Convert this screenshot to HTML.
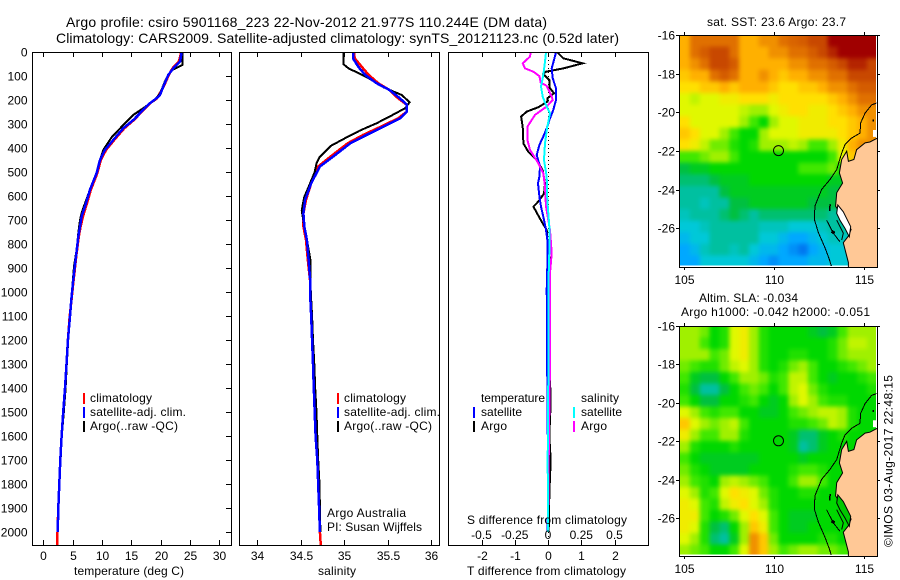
<!DOCTYPE html>
<html>
<head>
<meta charset="utf-8">
<title>Argo profile</title>
<style>
html,body{margin:0;padding:0;background:#fff;}
svg{display:block;}
text{font-family:"Liberation Sans",sans-serif;font-size:12px;fill:#000;}
.t14{font-size:14px;}
</style>
</head>
<body>
<svg id="chart" xmlns="http://www.w3.org/2000/svg" width="900" height="580" viewBox="0 0 900 580">
  <defs>
    <filter id="soft" x="-5%" y="-5%" width="110%" height="110%" color-interpolation-filters="sRGB"><feGaussianBlur stdDeviation="2.2"/></filter>
    <clipPath id="clip-sst"><rect x="680" y="35" width="196" height="230.5"/></clipPath>
    <clipPath id="clip-sla"><rect x="680" y="326" width="196" height="228.5"/></clipPath>
    <clipPath id="geo-sst"><rect x="680" y="35" width="197" height="232"/></clipPath>
    <clipPath id="geo-sla"><rect x="680" y="326" width="197" height="230"/></clipPath>
  </defs>
  <text class="t14" x="66" y="27" textLength="481">Argo profile: csiro 5901168_223 22-Nov-2012 21.977S 110.244E (DM data)</text>
  <text class="t14" x="56" y="43" textLength="563">Climatology: CARS2009. Satellite-adjusted climatology: synTS_20121123.nc (0.52d later)</text>

  <g id="layer-heat"></g>
  <g id="layer-geo"></g>
  <g id="layer-lines"></g>
  <g id="layer-axes"></g>

  <text x="74" y="575" textLength="110">temperature (deg C)</text>
  <text x="318" y="575" textLength="38">salinity</text>
  <text x="467" y="575" textLength="159">T difference from climatology</text>
  <text x="467" y="524" textLength="160">S difference from climatology</text>

  <g>
    <rect x="83" y="393" width="2" height="11" fill="#ff0000"/>
    <text x="90" y="402" textLength="62">climatology</text>
    <rect x="83" y="407" width="2" height="11" fill="#0000ff"/>
    <text x="90" y="416" textLength="96">satellite-adj. clim.</text>
    <rect x="83" y="421" width="2" height="11" fill="#000"/>
    <text x="90" y="430" textLength="88">Argo(..raw -QC)</text>
  </g>
  <g>
    <rect x="337" y="393" width="2" height="11" fill="#ff0000"/>
    <text x="344" y="402" textLength="62">climatology</text>
    <rect x="337" y="407" width="2" height="11" fill="#0000ff"/>
    <text x="344" y="416" textLength="96">satellite-adj. clim.</text>
    <rect x="337" y="421" width="2" height="11" fill="#000"/>
    <text x="344" y="430" textLength="88">Argo(..raw -QC)</text>
    <text x="327" y="517" textLength="79">Argo Australia</text>
    <text x="327" y="531" textLength="95">PI: Susan Wijffels</text>
  </g>
  <g>
    <text x="481" y="402" textLength="64">temperature</text>
    <rect x="473" y="407" width="2" height="11" fill="#0000ff"/>
    <text x="481" y="416" textLength="41">satellite</text>
    <rect x="473" y="421" width="2" height="11" fill="#000"/>
    <text x="481" y="430" textLength="26">Argo</text>
    <text x="581" y="402" textLength="38">salinity</text>
    <rect x="573" y="407" width="2" height="11" fill="#00ffff"/>
    <text x="581" y="416" textLength="41">satellite</text>
    <rect x="573" y="421" width="2" height="11" fill="#ff00ff"/>
    <text x="581" y="430" textLength="26">Argo</text>
  </g>

  <text x="707" y="26" textLength="139">sat. SST: 23.6 Argo: 23.7</text>
  <text x="699" y="302" textLength="99">Altim. SLA: -0.034</text>
  <text x="681" y="316" textLength="189">Argo h1000: -0.042 h2000: -0.051</text>
  <text transform="translate(892.5,547) rotate(-90)" textLength="172">©IMOS 03-Aug-2017 22:48:15</text>
</svg>
<script>
// ---------- depth ticks and axis tick labels ----------
const depthTicks = [0,100,200,300,400,500,600,700,800,900,1000,1100,1200,1300,1400,1500,1600,1700,1800,1900,2000];
const tempTicks = [0,5,10,15,20,25,30];
const salTicks = [34,34.5,35,35.5,36];
const tDiffTicks = [-2,-1,0,1,2];
const sDiffTicks = [-0.5,-0.25,0,0.25,0.5];
const lonTicks = [105,110,115];
const latTicks = [-16,-18,-20,-22,-24,-26];

// ---------- temperature panel ----------
const tempDepth = [0,39,67,94,143,178,194,212,240,282,317,365,407,449,504,574,629,685,726,768,851,921,976,1032,1100,1200,1300,1400,1500,1600,1700,1800,1900,2000];
const tempSat = [23.58,23.3,22.16,21.3,20.45,19.89,19.2,18.18,17.05,15.34,13.64,11.93,10.51,9.66,9.09,7.95,7.27,6.53,6.25,5.97,5.57,5.23,5.0,4.77,4.55,4.2,3.95,3.7,3.4,3.12,2.9,2.73,2.56,2.45];
const climDepth = [0,39,67,94,143,178,194,212,240,282,317,365,407,449,504,574,629,685,726,768,851,921,976,1032,1100,1200,1300,1400,1500,1600,1700,1800,1900,2000,2055];
const tempClim = [23.5,23.1,22.0,21.4,20.5,19.7,19.3,18.2,17.1,15.45,13.8,12.1,10.7,9.8,9.2,8.1,7.45,6.75,6.35,6.05,5.6,5.3,5.05,4.8,4.5,4.2,3.95,3.7,3.4,3.12,2.9,2.73,2.56,2.42,2.39];
const tempArgoDepth = [0,53,74,115,171,199,233,261,303,354,407,449,504,574,629,671,699,754,824,893,963,1018,1100,1200,1300,1400,1500,1600,1700,1800,1900,2000];
const tempArgo = [23.7,23.7,21.9,20.85,19.9,19.0,17.05,15.34,13.64,11.65,10.23,9.66,9.09,7.95,7.1,6.53,6.25,5.97,5.68,5.23,5.0,4.83,4.55,4.25,4.0,3.8,3.5,3.15,2.95,2.75,2.6,2.45];

// ---------- salinity panel ----------
const salDepth = [0,25,60,94,129,157,192,219,247,275,310,344,379,435,476,546,615,671,726,782,865,963,1032,1100,1200,1300,1400,1500,1600,1700,1800,1900,2000];
const salSat = [35.10,35.10,35.16,35.24,35.37,35.52,35.64,35.72,35.72,35.64,35.45,35.26,35.07,34.87,34.72,34.62,34.55,34.53,34.54,34.57,34.59,34.61,34.61,34.62,34.63,34.64,34.65,34.66,34.67,34.69,34.70,34.71,34.72];
const salClimDepth = [0,25,60,94,129,157,192,219,247,275,310,344,379,435,476,546,615,671,726,782,865,963,1032,1100,1200,1300,1400,1500,1600,1700,1800,1900,2000,2055];
const salClim = [35.11,35.12,35.20,35.28,35.39,35.52,35.62,35.72,35.72,35.62,35.42,35.22,35.04,34.84,34.70,34.62,34.56,34.53,34.53,34.56,34.58,34.61,34.61,34.62,34.63,34.64,34.65,34.66,34.67,34.69,34.70,34.71,34.72,34.73];
const salArgoDepth = [0,49,67,104,146,178,208,233,268,296,326,354,389,435,463,499,561,603,658,726,782,865,963,1032,1100,1200,1300,1400,1500,1600,1700,1800,1900,2000];
const salArgo = [34.99,34.99,35.05,35.26,35.45,35.66,35.75,35.70,35.52,35.37,35.18,35.03,34.85,34.72,34.68,34.66,34.59,34.54,34.51,34.54,34.57,34.61,34.61,34.62,34.63,34.64,34.655,34.665,34.68,34.69,34.70,34.715,34.72,34.725];

// ---------- difference panel ----------
const dtArgoDepth = [0,25,46,67,81,90,115,146,171,192,206,229,247,268,310,380,415,449,492,547,589,622,643,706,740,782,838,893,976,1100,1200,1300,1400,1500,1600,1700,1800,1900,2000];
const dtArgo = [0.28,0.46,1.04,0.46,-0.06,-0.14,0.04,0.04,0.18,-0.02,-0.02,-0.29,-0.64,-0.81,-0.76,-0.74,-0.59,-0.34,-0.16,-0.09,-0.12,-0.29,-0.44,-0.19,-0.04,-0.02,0.11,0.06,0.04,0.04,0,0.03,0.07,0.07,0.04,0.08,0.05,0.03,0.02];
const dtSatDepth = [0,32,67,108,150,199,240,275,317,351,386,428,476,518,546,601,643,685,740,782,893,990,1100,1400,1700,2000];
const dtSat = [0.24,0.18,0.11,0.14,0.24,0.24,0.16,0.06,-0.04,-0.14,-0.26,-0.34,-0.24,-0.26,-0.30,-0.26,-0.21,-0.14,-0.06,-0.02,-0.02,-0.04,-0.03,-0.02,0,-0.01];
const dsSatDepth = [0,39,94,143,185,226,254,310,379,449,518,615,726,837,976,1200,1500,1700,2000];
const dsSat = [-0.015,-0.0225,-0.035,-0.0525,-0.04,-0.01,0.015,-0.005,-0.0225,-0.03,-0.01,-0.005,0.01,0.01,0.0025,0.005,0,-0.0025,0];
const dsArgoDepth = [0,18,46,67,81,99,126,140,185,199,226,261,310,365,407,463,504,560,643,740,837,921,1004,1300,1500,1700,2000];
const dsArgo = [-0.13,-0.135,-0.19,-0.1725,-0.11,-0.065,-0.055,-0.01,0.0275,0.035,-0.01,-0.0975,-0.155,-0.155,-0.135,-0.0725,-0.035,-0.0225,-0.015,0.015,0.0275,0.015,0.015,0.015,0.01,0.005,0];

// ---------- map grids (colour level, 20 rows north to south, 20 columns west to east) ----------
const sstGrid = [
[10,11,11,11,11,11,10,10,10.5,10.5,11,11.3,11.5,12,12,13,13,13,13,13],
[10,11,11.5,12,12,11,10,10,10,10.5,10.5,11,11,11.5,12,12.5,13,13,13,13],
[10,10.5,11,12,12,11.5,10,10,10,10,10,10.5,10.5,11,11,11.5,12,12.5,12.5,12],
[9.5,10,10,11,11.5,11,10,10,10.5,10,9.5,10,10,10.5,10.5,11,11,12,12,12],
[9,9,9.5,9.5,10,9.5,10,10,10,9.5,9,9,9.5,9.5,10,10.5,10.5,11,11.5,11.5],
[8,7.5,8,8,8.5,8.5,9,9,9,8.5,9,9,9,9,9,9.5,10,10.5,11,11],
[8,8,8,8,8,8,7.5,7,7,8,8.5,9,9,8.5,8.5,9,9.5,10,10.5,10.5],
[9,8,8,8,8,8,7,6,5,7,8,8,8.5,8.5,8.5,9,9,9.5,10,10.5],
[9.5,9,8,8,7,6,5,5,7,8,8,8,8.5,8.5,8.5,8.5,9,9.5,10,10.5],
[9,8.5,7.5,6.5,6.5,5.5,5,5.5,7,7,7,7.5,7,6,6,7,8.5,10,10.5,10.5],
[6,6,6.5,7,7,6,5,5,5,5,5,5,5,5,5,6,8,9.5,10,10],
[4,4.5,4.5,5,5,5,5,5,5,5,5,5,6,6,6,6.5,5,5,5,5],
[3.5,3.5,3.5,4,4.5,4.5,4.5,5,5,5,5,5,5,5,5,4.5,4.5,4.5,4.5,4.5],
[3,3,3,3,4,4.5,4.5,4.5,4.5,4.5,4.5,4.5,4.5,4.5,4.5,4,4,4,4,4],
[3,3,2.5,3,3,4,4,4.5,4.5,4.5,4.5,4.5,4.5,4,4,4,3.5,3.5,3.5,3.5],
[2.5,3,3,3,3.5,4,3.5,3,3.5,3.5,3.5,3.5,3.5,3.5,3.5,3,3,3,3,3],
[2,2,2.5,3,3,3,3,3,2.5,2.5,2.5,2,2,2,2.5,3,3,3,3,3],
[1.5,2,2,3,3,3,3,3,2,2,1.5,1,1,1.5,2,2.5,2.5,2.5,2.5,2.5],
[1,1.5,2.5,3,3,2.5,3,2,1.5,1.5,1,0.5,0,1,1.5,2,2,2,2,2],
[1,1,2,2,2,2,2,1.5,1,0.5,1,1,1,1.5,1.5,2,2,2,2,2]
];
const slaGrid = [
[7,7,6.5,5,5.5,8,8.5,7,5.5,5,5,5,5,4.5,4,4.5,6,7,7,7],
[7,7,6,5,5.5,8,8.5,7,5.5,5,5,5,5,5,5,5.5,6.5,7.5,7.5,7],
[7,7,7,6,6.5,8,8.5,7,5.5,5,5,5.5,5.5,5,5,5.5,6.5,7,7,7],
[6.5,6,5.5,5.5,6.5,7.5,8,7,5.5,5,5.5,6.5,7,6,5,5,5.5,6,6.5,7],
[6,4.5,4,4,5,6,7,7,6.5,5.5,6,7.5,7.5,6,5,4.5,5,5,5.5,6],
[5.5,4,3,3,4,5,6,6.5,6,5,6,7.5,8,6.5,5.5,5,5,5,5,5.5],
[6,5,4,4,5,5,5.5,6,5,4.5,5,7,8,7,6,5.5,5.5,5,5,5],
[8,7,6,5.5,6,6,5,5,4.5,4.5,5,6,6.5,7,7.5,7.5,7,5.5,5,5],
[9.5,8,7,6.5,7,7.5,6,5,5,5,5,5.5,5.5,6,6.5,7.5,7,5.5,5,5],
[8.5,7,6,6,7,7,5.5,5,5,5,5,4.5,3.5,3.5,4.5,5,5.5,5,5,5],
[7,5.5,5,5,5,5.5,5,5,5,5,5,4.5,3,3.5,4.5,5,5,5,5,5],
[6,5,4.5,4.5,4.5,4.5,4.5,4.5,5,5,5,5,4.5,5,5,5,5,5,5,5],
[6.5,5.5,5,4.5,4.5,4.5,4.5,5,5,5,5,5.5,6,6,5.5,5,5,5,5,5],
[7,6,5.5,5,7,7.5,7,6.5,6,5,5,6,7,7,6,5,5,5,5,5],
[8,7,5.5,6,8,9,8.5,8,6.5,5.5,5,5,5.5,5.5,5,5,5,5,5,5],
[8.5,8,6,5.5,7.5,8.5,9,8,7,5.5,5,5,5,5,5,5,5,5,5,5],
[8.5,8.5,6,5,5.5,6.5,8,9,8,6,5,4.5,4.5,4.5,5,5,5,5,5,5],
[8.5,8,5.5,4,3.5,5,7,9.5,8.5,6,5,4.5,4.5,5,5,5,5,5,5,5],
[8,7,5.5,3.5,3,4.5,7,10.5,9.5,6.5,5,5,5,5,5.5,5.5,5,5,5,5],
[7,6.5,6,5,5,6,8,10.5,9.5,7,6,6.5,7,7,6.5,6.5,6,6,5,5]
];
const levelColours = ['#0078f0','#00a8ff','#00c8d8','#00c0a0','#00c040','#00d800','#40e800','#a0f000','#e0f800','#ffe000','#ffb000','#e07000','#c84800','#a00000'];

// ---------- geography (lon / lat) ----------
const landLon = [115.85,115.74,115.33,115.06,114.59,114.44,114.13,114.04,113.76,113.63,113.81,113.48,113.42,114.04,114.28,114.13,113.85,114.13,114.13,115.85];
const landLat = [-21.33,-21.33,-21.53,-21.58,-21.93,-22.44,-22.53,-22.01,-22.44,-23.13,-23.65,-24.16,-24.85,-25.71,-26.05,-26.40,-26.74,-27.77,-28.1,-28.1];
const isobathLon = [115.70,115.43,115.06,114.81,114.78,114.31,113.94,113.76,113.48,113.11,112.64,112.27,112.24,112.46,112.83,113.07,113.18];
const isobathLat = [-19.52,-19.61,-20.04,-20.55,-21.07,-21.33,-21.67,-22.10,-22.96,-23.47,-23.99,-24.85,-25.54,-26.22,-27.00,-27.60,-27.94];
const bayLon = [113.54,113.85,114.26,114.18,113.94,113.66,113.48];
const bayLat = [-24.79,-25.14,-25.91,-26.43,-26.0,-25.57,-25.22];
const islandLon = [112.92,113.29,113.66];
const islandLat = [-25.57,-26.25,-26.69];
const peninsulaLon = [113.48,113.85,113.76];
const peninsulaLat = [-25.57,-26.25,-26.6];
const bernierLon = [113.12,113.08];
const bernierLat = [-24.75,-25.1];
const blobLon = [113.2,113.36];
const blobLat = [-26.15,-26.25];
const patchLon = [115.5,115.74,115.74,115.5];
const patchLat = [-20.91,-20.91,-21.27,-21.27];
const reefLon = [115.46,115.56];
const reefLat = [-20.42,-20.42];
const floatLon = 110.244;
const floatLat = -21.977;

// ---------- drawing ----------
const NS = 'http://www.w3.org/2000/svg';
const layerHeat = document.getElementById('layer-heat');
const layerGeo = document.getElementById('layer-geo');
const layerLines = document.getElementById('layer-lines');
const layerAxes = document.getElementById('layer-axes');

function make(tag, parent, name) {
  const el = document.createElementNS(NS, tag);
  
  
  parent.appendChild(el);
  return el;
}
function yDepth(d) { return 52.3 + d * 0.2399; }
function xTemp(v) { return 43.3 + v * 5.867; }
function xSal(v) { return 257.3 + (v - 34) * 87; }
function xDT(v) { return 548 + v * 33.25; }
function xDS(v) { return 548 + v * 133; }

function profile(xFn, depths, values, colour, width, name) {
  const p = make('polyline', layerLines, name);
  p.setAttribute('points', values.map((v, i) => xFn(v).toFixed(1) + ',' + yDepth(depths[i]).toFixed(1)).join(' '));
  p.setAttribute('fill', 'none');
  p.setAttribute('stroke', colour);
  p.setAttribute('stroke-width', width);
  p.setAttribute('shape-rendering', 'crispEdges');
}
function line(parent, x1, y1, x2, y2, name) {
  const l = make('line', parent, name);
  l.setAttribute('x1', x1); l.setAttribute('y1', y1);
  l.setAttribute('x2', x2); l.setAttribute('y2', y2);
  l.setAttribute('stroke', '#000');
  l.setAttribute('stroke-width', 1);
  l.setAttribute('shape-rendering', 'crispEdges');
}
function frame(x, y, w, h, name) {
  const r = make('rect', layerAxes, name);
  r.setAttribute('x', x + 0.5); r.setAttribute('y', y + 0.5);
  r.setAttribute('width', w); r.setAttribute('height', h);
  r.setAttribute('fill', 'none');
  r.setAttribute('stroke', '#000');
  r.setAttribute('stroke-width', 1);
  r.setAttribute('shape-rendering', 'crispEdges');
}
function label(x, y, str, anchor, name) {
  const t = make('text', layerAxes, name);
  t.setAttribute('x', x); t.setAttribute('y', y);
  t.setAttribute('text-anchor', anchor);
  t.textContent = str;
}

// panels
frame(32, 52, 199, 493, 'temperature-panel-frame');
frame(239, 52, 200, 493, 'salinity-panel-frame');
frame(448, 52, 200, 493, 'difference-panel-frame');

depthTicks.forEach(d => {
  const y = Math.round(yDepth(d)) + 0.5;
  line(layerAxes, 226, y, 231, y, 'depth-tick');
  label(27.5, y + 4, String(d), 'end', 'depth-tick-label');
});
tempTicks.forEach(v => {
  const x = Math.round(xTemp(v)) + 0.5;
  line(layerAxes, x, 52, x, 57, 'temperature-top-tick');
  line(layerAxes, x, 540, x, 545, 'temperature-bottom-tick');
  label(x, 560, String(v), 'middle', 'temperature-tick-label');
});
salTicks.forEach(v => {
  const x = Math.round(xSal(v)) + 0.5;
  line(layerAxes, x, 52, x, 57, 'salinity-top-tick');
  line(layerAxes, x, 540, x, 545, 'salinity-bottom-tick');
  label(x, 560, String(v), 'middle', 'salinity-tick-label');
});
tDiffTicks.forEach(v => {
  const x = Math.round(xDT(v)) + 0.5;
  line(layerAxes, x, 52, x, 57, 't-diff-top-tick');
  line(layerAxes, x, 540, x, 545, 't-diff-bottom-tick');
  label(x, 560, String(v), 'middle', 't-diff-tick-label');
});
sDiffTicks.forEach(v => {
  label(xDS(v), 539, String(v), 'middle', 's-diff-tick-label');
});
const zeroLine = make('line', layerLines, 'zero-difference-line');
zeroLine.setAttribute('x1', 548.5); zeroLine.setAttribute('x2', 548.5);
zeroLine.setAttribute('y1', 52); zeroLine.setAttribute('y2', 545);
zeroLine.setAttribute('stroke', '#000');
zeroLine.setAttribute('stroke-dasharray', '1 3');

// series
profile(xTemp, climDepth, tempClim, '#ff0000', 2.5, 'temperature-climatology-line');
profile(xTemp, tempArgoDepth, tempArgo, '#000000', 2, 'temperature-argo-line');
profile(xTemp, tempDepth, tempSat, '#0000ff', 2.5, 'temperature-satellite-line');
profile(xSal, salClimDepth, salClim, '#ff0000', 2.5, 'salinity-climatology-line');
profile(xSal, salArgoDepth, salArgo, '#000000', 2, 'salinity-argo-line');
profile(xSal, salDepth, salSat, '#0000ff', 2.5, 'salinity-satellite-line');
profile(xDT, dtArgoDepth, dtArgo, '#000000', 2, 't-diff-argo-line');
profile(xDT, dtSatDepth, dtSat, '#0000ff', 2, 't-diff-satellite-line');
profile(xDS, dsArgoDepth, dsArgo, '#ff00ff', 2, 's-diff-argo-line');
profile(xDS, dsSatDepth, dsSat, '#00ffff', 2, 's-diff-satellite-line');

// maps
function levelColour(v) {
  const lo = Math.max(0, Math.min(levelColours.length - 1, Math.floor(v)));
  const hi = Math.min(levelColours.length - 1, lo + 1);
  const f = v - lo;
  const a = parseInt(levelColours[lo].slice(1), 16);
  const b = parseInt(levelColours[hi].slice(1), 16);
  const ch = s => Math.round(((a >> s) & 255) * (1 - f) + ((b >> s) & 255) * f);
  return 'rgb(' + ch(16) + ',' + ch(8) + ',' + ch(0) + ')';
}
function polyPoints(xFn, yFn, lons, lats) {
  return lons.map((v, i) => xFn(v).toFixed(1) + ',' + yFn(lats[i]).toFixed(1)).join(' ');
}
function drawMap(cfg) {
  const xLon = v => 684.3 + (v - 105) * 17.97;
  const yLat = v => cfg.top + (-16 - v) * cfg.pxPerDeg;
  const left = 680, right = 877, bottom = cfg.top + cfg.height;
  const clipG = make('g', layerHeat, cfg.name + '-heat-clip');
  clipG.setAttribute('clip-path', 'url(#' + cfg.clip + ')');
  const g = make('g', clipG, cfg.name + '-heatmap');
  g.setAttribute('filter', 'url(#soft)');
  const rows = cfg.grid.length, cols = cfg.grid[0].length;
  const cw = (right - left) / cols, ch = cfg.height / rows;
  cfg.grid.forEach((row, r) => {
    row.forEach((v, c) => {
      const rect = make('rect', g, cfg.name + '-cell');
      const x0 = c === 0 ? left - 12 : left + c * cw;
      const x1 = c === cols - 1 ? right + 12 : left + (c + 1) * cw + 0.5;
      const y0 = r === 0 ? cfg.top - 12 : cfg.top + r * ch;
      const y1 = r === rows - 1 ? bottom + 12 : cfg.top + (r + 1) * ch + 0.5;
      rect.setAttribute('x', x0.toFixed(1));
      rect.setAttribute('y', y0.toFixed(1));
      rect.setAttribute('width', (x1 - x0).toFixed(1));
      rect.setAttribute('height', (y1 - y0).toFixed(1));
      rect.setAttribute('fill', levelColour(v));
    });
  });

  const geo = make('g', layerGeo, cfg.name + '-geography');
  geo.setAttribute('clip-path', 'url(#' + cfg.geoClip + ')');
  const land = make('polygon', geo, cfg.name + '-land');
  land.setAttribute('points', polyPoints(xLon, yLat, landLon, landLat));
  land.setAttribute('fill', '#ffc896');
  land.setAttribute('stroke', '#000');
  land.setAttribute('stroke-width', 1);
  const bay = make('polygon', geo, cfg.name + '-shark-bay');
  bay.setAttribute('points', polyPoints(xLon, yLat, bayLon, bayLat));
  bay.setAttribute('fill', cfg.bayFill);
  bay.setAttribute('stroke', '#000');
  bay.setAttribute('stroke-width', 1);
  const patch = make('polygon', geo, cfg.name + '-exmouth-gap');
  patch.setAttribute('points', polyPoints(xLon, yLat, patchLon, patchLat));
  patch.setAttribute('fill', '#ffffff');
  [[isobathLon, isobathLat, 1, 'isobath'], [islandLon, islandLat, 1, 'dirk-hartog-island'], [bernierLon, bernierLat, 1.5, 'bernier-island'], [blobLon, blobLat, 3, 'bay-island'], [reefLon, reefLat, 2, 'exmouth-reef']].forEach(s => {
    const pl = make('polyline', geo, cfg.name + '-' + s[3]);
    pl.setAttribute('points', polyPoints(xLon, yLat, s[0], s[1]));
    pl.setAttribute('fill', 'none');
    pl.setAttribute('stroke', '#000');
    pl.setAttribute('stroke-width', s[2]);
    pl.setAttribute('shape-rendering', 'crispEdges');
  });
  const pen = make('polyline', geo, cfg.name + '-peninsula');
  pen.setAttribute('points', polyPoints(xLon, yLat, peninsulaLon, peninsulaLat));
  pen.setAttribute('fill', 'none');
  pen.setAttribute('stroke', '#000');
  pen.setAttribute('stroke-width', 1);
  const marker = make('circle', geo, cfg.name + '-float-position');
  marker.setAttribute('cx', xLon(floatLon).toFixed(1));
  marker.setAttribute('cy', yLat(floatLat).toFixed(1));
  marker.setAttribute('r', 5);
  marker.setAttribute('fill', 'none');
  marker.setAttribute('stroke', '#000');
  marker.setAttribute('stroke-width', 1);

  frame(679, cfg.top, 198, cfg.height, cfg.name + '-frame');
  lonTicks.forEach(v => {
    const x = Math.round(xLon(v)) + 0.5;
    line(layerAxes, x, cfg.top - 3, x, cfg.top, cfg.name + '-top-tick');
    line(layerAxes, x, bottom, x, bottom + 3, cfg.name + '-bottom-tick');
    label(x, cfg.labelY, String(v), 'middle', cfg.name + '-lon-label');
  });
  latTicks.forEach(v => {
    const y = Math.round(yLat(v)) + 0.5;
    line(layerAxes, 676, y, 679, y, cfg.name + '-left-tick');
    line(layerAxes, 877, y, 880, y, cfg.name + '-right-tick');
    label(675, y + 4, String(v), 'end', cfg.name + '-lat-label');
  });
}
drawMap({name: 'sst-map', grid: sstGrid, top: 35, height: 232, pxPerDeg: 19.34, clip: 'clip-sst', geoClip: 'geo-sst', bayFill: '#ffffff', labelY: 284});
drawMap({name: 'sla-map', grid: slaGrid, top: 326, height: 230, pxPerDeg: 19.2, clip: 'clip-sla', geoClip: 'geo-sla', bayFill: '#00c800', labelY: 573});
</script>
</body>
</html>
